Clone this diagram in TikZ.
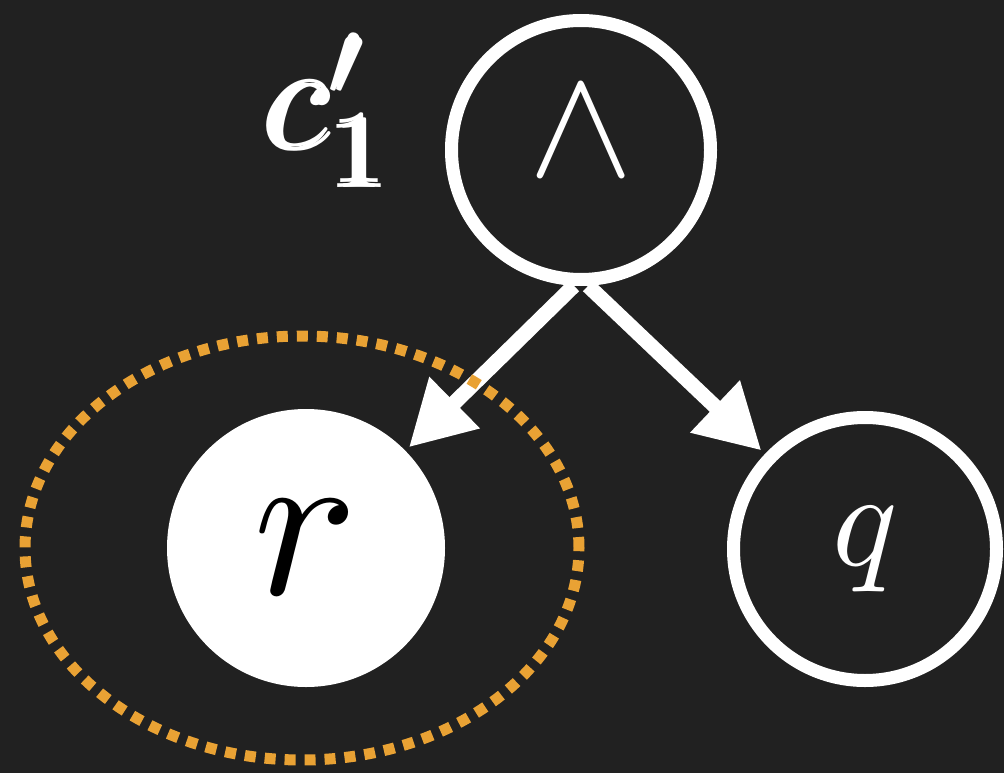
\documentclass[tikz,border=0pt]{standalone}
\usepackage{amsmath,bm}
\usepackage{graphicx}
\usetikzlibrary{arrows.meta}
\definecolor{chalkbg}{RGB}{33,33,33}
\definecolor{hlorange}{RGB}{233,162,52}
\newcommand{\bigmath}[2]{\scalebox{#1}{$#2$}}
\tikzset{
  opnode/.style={circle, draw=white, line width=13pt, minimum size=259pt,
    inner sep=0pt, text=white},
  varnode/.style={circle, draw=white, line width=13pt, minimum size=263pt,
    inner sep=0pt, text=white},
  selnode/.style={circle, draw=white, fill=white, line width=13pt, minimum size=265pt,
    inner sep=0pt, text=black},
  treearrow/.style={-{Triangle[length=64pt,width=68pt]}, draw=white, line width=15pt,
    shorten >=5pt},
  hlring/.style={draw=hlorange, line width=11pt, dash pattern=on 11pt off 9pt},
}

\begin{document}
\begin{tikzpicture}[x=1pt, y=-1pt,
    clabel/.style={text=white, inner sep=0pt}
  ]
  % background
  \fill[chalkbg] (0,0) rectangle (1004,773);
  \useasboundingbox (0,0) rectangle (1004,773);

  % nodes
  \node[opnode]  (and) at (581,150) {\raisebox{36pt}{\bigmath{15.8}{\wedge}}};
  \node[selnode] (r)   at (306,548) {\bigmath{21.8}{r}};
  \node[varnode] (q)   at (865,549) {\bigmath{13.6}{q}};
  \node[clabel]  (cname) at (333,110) {\bigmath{15}{\pmb{c'_1}}};

  % edges
  \draw[treearrow] (and.267) -- (r);
  \draw[treearrow] (and.273) -- (q);

  % highlight round r
  \draw[hlring] ([xshift=-4pt]r.center) ellipse [x radius=277pt, y radius=212pt];
\end{tikzpicture}
\end{document}
